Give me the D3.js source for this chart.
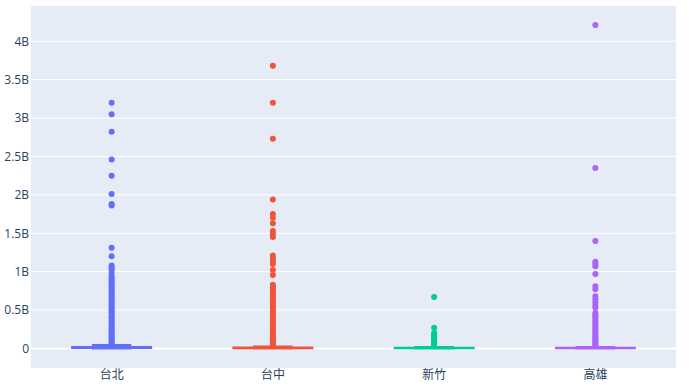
<!DOCTYPE html>
<html>
<head>
<meta charset="utf-8">
<script src="https://cdn.jsdelivr.net/npm/d3@7"></script>
<style>
  body { margin: 0; background: #fff; }
  text { font-family: "Open Sans", "Noto Sans CJK SC", sans-serif; font-size: 12px; fill: #2a3f5f; }
</style>
</head>
<body>
<div id="chart"></div>
<script>
// values in billions
const cities = ['台北', '台中', '新竹', '高雄']
const colors = ['#636efa', '#EF553B', '#00cc96', '#ab63fa']
const tickValues = [0, 0.5, 1, 1.5, 2, 2.5, 3, 3.5, 4]
const tickLabels = ['0', '0.5B', '1B', '1.5B', '2B', '2.5B', '3B', '3.5B', '4B']

// [lowerfence, q1, median, q3, upperfence]
const boxTaipei = [0, 0.004, 0.01, 0.02, 0.045]
const boxTaichung = [0, 0.002, 0.006, 0.012, 0.025]
const boxHsinchu = [0, 0.002, 0.005, 0.01, 0.02]
const boxKaohsiung = [0, 0.002, 0.005, 0.01, 0.02]

const outTaipei = [3.20, 3.05, 2.82, 2.46, 2.25, 2.01, 1.88, 1.86, 1.31, 1.20, 1.08, 1.05, 1.03, 0.99,
  0.94, 0.91, 0.89, 0.87, 0.85, 0.82, 0.80, 0.77, 0.75, 0.72, 0.70, 0.67, 0.65, 0.62, 0.60, 0.57,
  0.55, 0.52, 0.50, 0.47, 0.45, 0.42, 0.40, 0.37, 0.35, 0.32, 0.30, 0.27, 0.25, 0.22, 0.20, 0.18,
  0.16, 0.14, 0.12, 0.10, 0.08, 0.06]
const outTaichung = [3.68, 3.20, 2.73, 1.94, 1.75, 1.70, 1.63, 1.53, 1.49, 1.45, 1.21, 1.17, 1.13, 1.10,
  1.02, 0.955, 0.83, 0.80, 0.78, 0.75, 0.72, 0.70, 0.67, 0.65, 0.62, 0.60, 0.57, 0.55, 0.52, 0.50,
  0.47, 0.45, 0.42, 0.40, 0.37, 0.35, 0.32, 0.30, 0.27, 0.25, 0.22, 0.20, 0.18, 0.16, 0.14, 0.12,
  0.10, 0.08, 0.06, 0.04, 0.03]
const outHsinchu = [0.67, 0.27, 0.20, 0.18, 0.16, 0.14, 0.12, 0.10, 0.08, 0.06, 0.04, 0.03]
const outKaohsiung = [4.21, 2.35, 1.40, 1.13, 1.10, 1.07, 0.97, 0.81, 0.77, 0.68, 0.64, 0.60, 0.56,
  0.53, 0.46, 0.44, 0.42, 0.40, 0.37, 0.35, 0.32, 0.30, 0.27, 0.25, 0.22, 0.20, 0.18, 0.16, 0.14,
  0.12, 0.10, 0.08, 0.06, 0.04, 0.03]

const boxes = [boxTaipei, boxTaichung, boxHsinchu, boxKaohsiung]
const outliers = [outTaipei, outTaichung, outHsinchu, outKaohsiung]

const width = 700, height = 389
const margin = {left: 31, right: 24, top: 6, bottom: 21}
const innerWidth = width - margin.left - margin.right
const innerHeight = height - margin.top - margin.bottom

const svg = d3.select('#chart').append('svg').attr('width', width).attr('height', height)

const xScale = d3.scaleBand().domain(cities).range([0, innerWidth])
const yScale = d3.scaleLinear().domain([-0.255, 4.459]).range([innerHeight, 0])

const g = svg.append('g').attr('transform', `translate(${margin.left},${margin.top})`)

g.append('rect').attr('width', innerWidth).attr('height', innerHeight).attr('fill', '#E5ECF6')

// grid
g.selectAll('.grid')
  .data(tickValues)
  .join('line')
  .attr('class', 'grid')
  .attr('x1', 0).attr('x2', innerWidth)
  .attr('y1', d => yScale(d)).attr('y2', d => yScale(d))
  .attr('stroke', '#fff')
  .attr('stroke-width', d => d === 0 ? 2 : 1)

// y axis
const yAxis = d3.axisLeft(yScale).tickValues(tickValues).tickFormat((d, i) => tickLabels[i]).tickSize(0).tickPadding(2)
g.append('g').call(yAxis).call(a => a.select('.domain').remove())
  .selectAll('text').attr('fill', '#2a3f5f').style('font-size', '12px')

// x axis
const xAxis = d3.axisBottom(xScale).tickSize(0).tickPadding(2)
g.append('g').attr('transform', `translate(0,${innerHeight})`).call(xAxis)
  .call(a => a.select('.domain').remove())
  .selectAll('text').attr('fill', '#2a3f5f').style('font-size', '12px')

const boxW = xScale.bandwidth() * 0.7 * 0.7

cities.forEach((c, i) => {
  const cx = xScale(c) + xScale.bandwidth() / 2
  const [lo, q1, med, q3, hi] = boxes[i]
  const col = colors[i]
  const bg = g.append('g')

  // outlier points
  bg.selectAll('circle')
    .data(outliers[i])
    .join('circle')
    .attr('cx', cx)
    .attr('cy', d => yScale(d))
    .attr('r', 3)
    .attr('fill', col)

  const x0 = cx - boxW / 2, x1 = cx + boxW / 2
  const c0 = cx - boxW / 4, c1 = cx + boxW / 4
  const path = `M${x0},${yScale(q1)}H${x1}V${yScale(q3)}H${x0}Z` +
    `M${x0},${yScale(med)}H${x1}` +
    `M${cx},${yScale(q1)}V${yScale(lo)}M${cx},${yScale(q3)}V${yScale(hi)}` +
    `M${c0},${yScale(lo)}H${c1}M${c0},${yScale(hi)}H${c1}`
  bg.append('path')
    .attr('d', path)
    .attr('fill', d3.color(col).copy({opacity: 0.5}))
    .attr('stroke', col)
    .attr('stroke-width', 2)
})
</script>
</body>
</html>
